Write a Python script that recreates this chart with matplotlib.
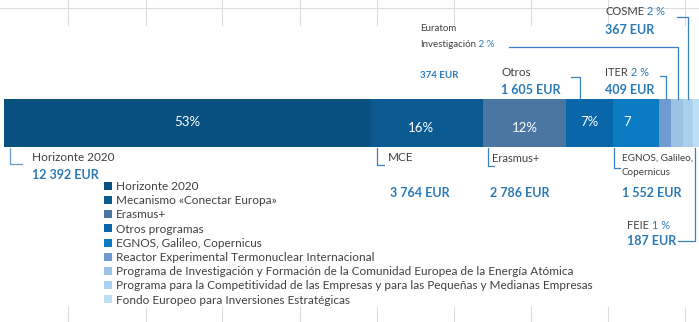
import matplotlib
matplotlib.use("Agg")
import matplotlib.pyplot as plt
import numpy as np

plt.rcParams['font.family'] = ['Lato', 'DejaVu Sans']

categories = ["Horizonte 2020",
              "Mecanismo «Conectar Europa»",
              "Erasmus+",
              "Otros programas",
              "EGNOS, Galileo, Copernicus",
              "Reactor Experimental Termonuclear Internacional",
              "Programa de Investigación y Formación de la Comunidad Europea de la Energía Atómica",
              "Programa para la Competitividad de las Empresas y para las Pequeñas y Medianas Empresas",
              "Fondo Europeo para Inversiones Estratégicas"]
values = [12392, 3764, 2786, 1605, 1552, 409, 374, 367, 187]
bar_labels = ["53%", "16%", "12%", "7%", "7", "", "", "", ""]
value_labels = ["12 392 EUR", "3 764 EUR", "2 786 EUR", "1 605 EUR", "1 552 EUR",
                "409 EUR", "374 EUR", "367 EUR", "187 EUR"]
colors = ["#07507f", "#0b5b92", "#4a76a4", "#0866a9", "#0b7bc4",
          "#6f9bd0", "#9cc2e5", "#a9d1ee", "#bcdff3"]

DARK = "#404040"
BLUE = "#2a7ab8"
LINE = "#3a80c2"

W, H = 699, 322
fig = plt.figure(figsize=(W / 100, H / 100), dpi=100)

# bar axes
x0, x1, y0, y1 = 4, 699, 99, 147
bx = fig.add_axes([x0 / W, 1 - y1 / H, (x1 - x0) / W, (y1 - y0) / H])
bx.set_zorder(1)
total = sum(values)
left = 0
bars = []
for cat, v, c in zip(categories, values, colors):
    b = bx.barh(0, v, left=left, height=1.0, color=c, label=cat, edgecolor="none")
    bars.append(b)
    left += v
bx.set_xlim(0, total)
bx.set_ylim(-0.5, 0.5)
bx.axis("off")

# overlay axes in pixel coordinates
ov = fig.add_axes([0, 0, 1, 1])
ov.set_zorder(2)
ov.patch.set_visible(False)
ov.set_xlim(0, W)
ov.set_ylim(H, 0)
ov.axis("off")

# faint sheet gridlines at top and bottom
for gx in [68, 146, 222, 300, 377, 454, 531, 608, 685]:
    ov.plot([gx, gx], [0, 25], color="#dcdcdc", lw=0.8, zorder=0)
    ov.plot([gx, gx], [307, 322], color="#dcdcdc", lw=0.8, zorder=0)
ov.plot([0, W], [8, 8], color="#dcdcdc", lw=0.8, zorder=0)

cum = np.concatenate([[0], np.cumsum(values)])

def px(v):
    return x0 + v / total * (x1 - x0)

# labels inside bar
lab_pos = [(px(cum[0] + values[0] / 2), 122), (px(cum[1] + values[1] / 2) - 6, 128),
           (px(cum[2] + values[2] / 2), 128), (px(cum[3] + values[3] / 2), 122),
           (627, 122)]
for (lx, ly), t in zip(lab_pos, bar_labels[:5]):
    ov.text(lx, ly, t, color="white", fontsize=9.5, ha="center", va="center")

def bracket_down(xv, ybot, xend, color=LINE):
    ov.plot([xv, xv, xend], [y1 + 1, ybot, ybot], color=color, lw=0.9)

def bracket_up(xv, ytop, xstart):
    ov.plot([xstart, xv, xv], [ytop, ytop, y0], color=LINE, lw=0.9)

def name_pct(x, y, name, pct, fs=8):
    t = ov.text(x, y, name, color=DARK, fontsize=fs, ha="left", va="center")
    if pct:
        ov.annotate(" " + pct, xy=(1, 0.5), xycoords=t, color=BLUE, fontsize=fs,
                    ha="left", va="center")
    return t

def val(x, y, t, fs=9.0):
    ov.text(x, y, t, color=BLUE, fontsize=fs, fontweight="bold", ha="left", va="center")

# bottom annotations
bracket_down(10, 164, 22, color="#6b9bc8")
name_pct(32, 157, "Horizonte 2020", None, fs=8.5)
val(32, 175, value_labels[0])

bracket_down(377, 165, 384)
name_pct(388, 157, "MCE", None, fs=8.5)
val(390, 193, value_labels[1])

bracket_down(488, 166, 494)
name_pct(492, 158, "Erasmus+", None)
val(490, 193, value_labels[2])

bracket_down(614, 168, 620)
name_pct(622, 158, "EGNOS, Galileo,", None, fs=7.1)
name_pct(622, 172, "Copernicus", None, fs=7.1)
val(622, 193, value_labels[4])

ov.plot([695, 695, 678], [y1 + 1, 241, 241], color=LINE, lw=0.9)
name_pct(627, 225, "FEIE", "1 %", fs=8)
val(627, 241, value_labels[8])

# top annotations
bracket_up(580, 77, 571)
name_pct(501, 72, "Otros", None, fs=8.5)
val(501, 90, value_labels[3])

bracket_up(666, 76, 660)
name_pct(605, 72, "ITER", "2 %", fs=8)
val(605, 90, value_labels[5])

bracket_up(678, 47, 509)
name_pct(420, 28, "Euratom", None, fs=7)
name_pct(420, 44, "Investigación", "2 %", fs=7)
val(420, 75, value_labels[6], fs=7)

bracket_up(688, 17, 677)
name_pct(605, 11, "COSME", "2 %", fs=8)
val(605, 30, value_labels[7])

# legend
leg = ov.legend(handles=[b[0] for b in bars], labels=categories,
                loc="upper left", bbox_to_anchor=(104 / W, 1 - 181 / H),
                bbox_transform=fig.transFigure, frameon=False,
                fontsize=8.5, handlelength=0.65, handleheight=0.65,
                handletextpad=0.35, labelspacing=0.27, borderaxespad=0,
                borderpad=0)
for t in leg.get_texts():
    t.set_color(DARK)

fig.savefig("out.png", dpi=100)
